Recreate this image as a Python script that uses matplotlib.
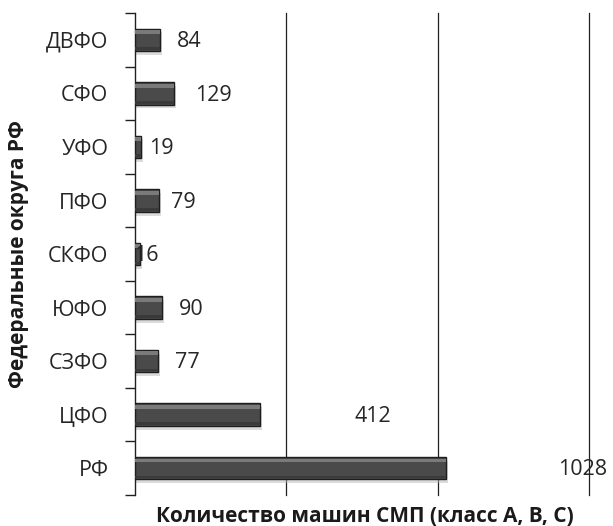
import matplotlib
matplotlib.use("Agg")
import matplotlib.pyplot as plt
from matplotlib.patches import Rectangle
import numpy as np

plt.rcParams['font.family'] = ['Open Sans', 'DejaVu Sans']

# Federal districts (bottom to top) and number of ambulance vehicles
districts = ["РФ", "ЦФО", "СЗФО", "ЮФО", "СКФО", "ПФО", "УФО", "СФО", "ДВФО"]
vehicles = [1028, 412, 77, 90, 16, 79, 19, 129, 84]
# where each value label is anchored (centre, in data units)
label_x = [1480, 786, 173, 185, 38, 160, 89, 261, 178]

x_max = 1500
grid_at = [500, 1000, 1500]

fig = plt.figure(figsize=(6.13, 5.26), dpi=100)
ax = fig.add_axes([0.220, 0.059, 0.741, 0.916])

y = np.arange(len(districts))
h = 0.42

# soft drop shadow under each bar
for yi, v in zip(y, vehicles):
    ax.add_patch(Rectangle((0, yi - h / 2 - 0.07), v + 7, h, facecolor="#b8b8b8",
                           edgecolor="none", alpha=0.5, zorder=2))

bars = ax.barh(y, vehicles, height=h, color="#4a4a4a", edgecolor="#1e1e1e",
               linewidth=1.0, zorder=3)

# bevel highlight along the top face of each bar
for yi, v in zip(y, vehicles):
    ax.add_patch(Rectangle((0, yi + h / 2 - 0.10), v, 0.07, facecolor="#7a7a7a",
                           edgecolor="none", zorder=4))
    ax.add_patch(Rectangle((0, yi - h / 2 + 0.02), v, 0.05, facecolor="#3a3a3a",
                           edgecolor="none", zorder=4))

for yi, v, lx in zip(y, vehicles, label_x):
    ax.text(lx, yi - 0.03, str(v), ha="center", va="center", fontsize=15.5,
            color="#262626", zorder=5)

ax.set_xlim(0, x_max)
ax.set_ylim(-0.5, len(districts) - 0.5)

for g in grid_at:
    ax.axvline(g, color="#202020", linewidth=0.9, zorder=1, clip_on=False)

for s in ["top", "right", "bottom"]:
    ax.spines[s].set_visible(False)
ax.spines["left"].set_color("#202020")
ax.spines["left"].set_linewidth(1.0)
ax.spines["left"].set_zorder(2)

ax.set_xticks([])
ax.set_yticks(y)
ax.set_yticklabels(districts, fontsize=15.5, color="#262626")
ax.tick_params(axis="y", which="major", length=0, pad=19)
ax.set_yticks(np.arange(-0.5, len(districts)), minor=True)
ax.tick_params(axis="y", which="minor", length=7, width=1.0, color="#202020")

fig.text(365 / 613, 1 - 517 / 526, "Количество машин СМП (класс A, B, C)",
         fontsize=15, fontweight="bold", color="#1a1a1a",
         ha="center", va="center")
fig.text(19 / 613, 1 - 254 / 526, "Федеральные округа РФ", rotation=90,
         fontsize=15, fontweight="bold", color="#1a1a1a",
         ha="center", va="center")

fig.savefig("out.png", dpi=100)
